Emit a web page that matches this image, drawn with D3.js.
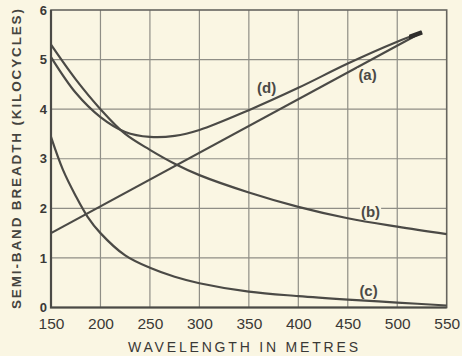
<!DOCTYPE html>
<html>
<head>
<meta charset="utf-8">
<script src="https://cdn.jsdelivr.net/npm/d3@7"></script>
<style>
  body { margin: 0; background: #faf6e3; }
  svg { display: block; font-family: "Liberation Sans", Arial, sans-serif; }
</style>
</head>
<body>
<svg id="chart" width="462" height="356"></svg>
<script>
// values
const xTicks = [150, 200, 250, 300, 350, 400, 450, 500, 550]
const yTicks = [0, 1, 2, 3, 4, 5, 6]

const aX = [150, 525]
const aV = [1.5, 5.55]

const bX = [150, 175, 200, 225, 250, 275, 300, 350, 400, 450, 500, 550]
const bV = [5.3, 4.6, 4.0, 3.5, 3.18, 2.9, 2.67, 2.32, 2.03, 1.8, 1.63, 1.48]

const cX = [150, 162, 175, 187, 200, 225, 250, 275, 300, 350, 400, 450, 500, 550]
const cV = [3.44, 2.78, 2.25, 1.83, 1.5, 1.05, 0.8, 0.62, 0.49, 0.32, 0.23, 0.16, 0.1, 0.04]

const dX = [150, 175, 200, 225, 250, 275, 300, 350, 400, 450, 500, 525]
const dV = [5.05, 4.33, 3.84, 3.54, 3.44, 3.46, 3.58, 3.98, 4.43, 4.92, 5.36, 5.55]

const labels = [
  { text: '(d)', x: 368, y: 4.43 },
  { text: '(a)', x: 470, y: 4.69 },
  { text: '(b)', x: 473, y: 1.94 },
  { text: '(c)', x: 471, y: 0.33 }
]

const svg = d3.select('#chart')
const x = d3.scaleLinear().domain([150, 550]).range([51, 446.7])
const y = d3.scaleLinear().domain([0, 6]).range([307.5, 10])

const ink = '#4b4a46'
const grid = '#8f8e86'

// grid
svg.append('g')
  .selectAll('line')
  .data(xTicks.slice(1, -1))
  .enter().append('line')
  .attr('x1', d => x(d)).attr('x2', d => x(d))
  .attr('y1', y(6)).attr('y2', y(0))
  .attr('stroke', grid).attr('stroke-width', 1.2)

svg.append('g')
  .selectAll('line')
  .data(yTicks.slice(1, -1))
  .enter().append('line')
  .attr('x1', x(150)).attr('x2', x(550))
  .attr('y1', d => y(d)).attr('y2', d => y(d))
  .attr('stroke', grid).attr('stroke-width', 1.2)

// frame
svg.append('rect')
  .attr('x', x(150)).attr('y', y(6))
  .attr('width', x(550) - x(150)).attr('height', y(0) - y(6))
  .attr('fill', 'none').attr('stroke', '#66655f').attr('stroke-width', 1.6)
svg.append('path')
  .attr('d', `M${x(150)},${y(6)}V${y(0)}H${x(550)}`)
  .attr('fill', 'none').attr('stroke', ink).attr('stroke-width', 2.2)

// axes labels
const xAxis = svg.append('g')
  .attr('transform', `translate(0,${y(0) + 6})`)
  .call(d3.axisBottom(x).tickValues(xTicks).tickSize(0).tickPadding(4))
xAxis.select('.domain').remove()
xAxis.selectAll('text').attr('font-size', 15.5).attr('fill', '#3a3936')

const yAxis = svg.append('g')
  .attr('transform', `translate(${x(150) - 3},0)`)
  .call(d3.axisLeft(y).tickValues(yTicks).tickFormat(d3.format('d')).tickSize(0).tickPadding(1))
yAxis.select('.domain').remove()
yAxis.selectAll('text').attr('font-size', 13).attr('font-weight', 'bold').attr('fill', '#3a3936')

svg.append('text')
  .attr('x', 128).attr('y', 352)
  .attr('textLength', 230).attr('lengthAdjust', 'spacing')
  .attr('font-size', 14).attr('fill', '#3a3936')
  .text('WAVELENGTH IN METRES')

svg.append('text')
  .attr('transform', 'translate(21,309) rotate(-90)')
  .attr('textLength', 300).attr('lengthAdjust', 'spacing')
  .attr('font-size', 13.5).attr('font-weight', 'bold').attr('fill', '#45443f')
  .text('SEMI-BAND BREADTH (KILOCYCLES)')

// curves
const line = d3.line()
  .x(d => x(d[0])).y(d => y(d[1]))
  .curve(d3.curveCatmullRom.alpha(0.5))

const series = [[aX, aV], [bX, bV], [cX, cV], [dX, dV]]
series.forEach(([xs, vs]) => {
  svg.append('path')
    .datum(d3.zip(xs, vs))
    .attr('d', line)
    .attr('fill', 'none')
    .attr('stroke', ink)
    .attr('stroke-width', 2.2)
})

// heavy end where (a) and (d) meet
svg.append('clipPath').attr('id', 'endclip')
  .append('rect')
  .attr('x', x(512)).attr('y', 0).attr('width', 40).attr('height', 100)
svg.append('path')
  .datum(d3.zip(dX, dV))
  .attr('d', line)
  .attr('clip-path', 'url(#endclip)')
  .attr('fill', 'none')
  .attr('stroke', '#2f2e2b')
  .attr('stroke-width', 4.5)

// curve labels
labels.forEach(l => {
  const t = svg.append('text')
    .attr('x', x(l.x)).attr('y', y(l.y))
    .attr('text-anchor', 'middle').attr('dy', '0.35em')
    .attr('font-size', 15).attr('font-weight', 'bold').attr('fill', '#4b4a46')
    .text(l.text)
  const bb = t.node().getBBox()
  svg.insert('rect', () => t.node())
    .attr('x', bb.x - 1).attr('y', bb.y + 2)
    .attr('width', bb.width + 2).attr('height', bb.height - 4)
    .attr('fill', '#faf6e3')
})
</script>
</body>
</html>
